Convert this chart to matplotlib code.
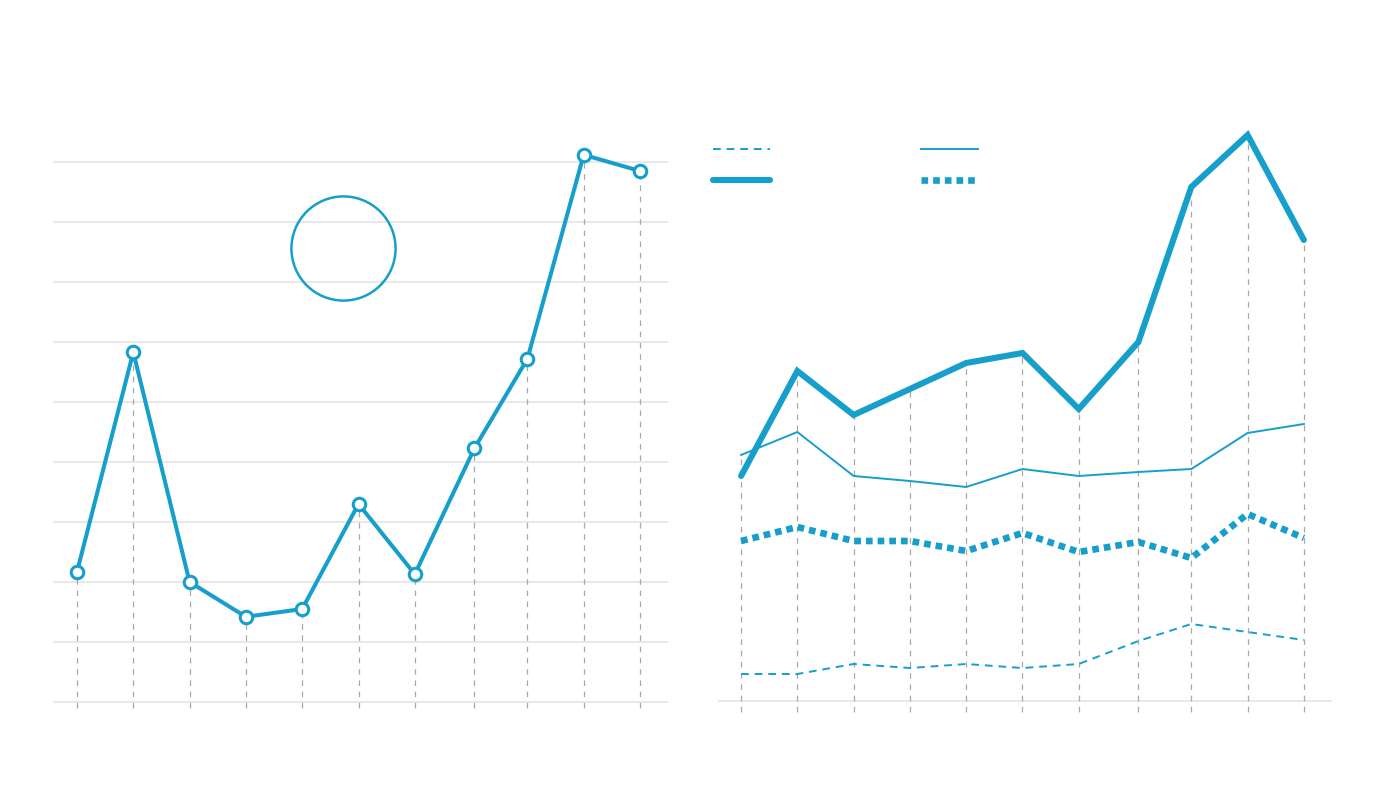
"""
Two small-multiple line charts without labels: a single series with hollow
markers on the left, four styled series sharing a legend on the right.
"""
import matplotlib

matplotlib.use("Agg")
import matplotlib.pyplot as plt
from matplotlib.lines import Line2D

BLUE = "#169fcb"
GRID = "#e4e4e4"
DROP = "#a8a8a8"

# ── data ─────────────────────────────────────────────────────────────
# period 7 sits a little late in both panels
periods = [0, 1, 2, 3, 4, 5, 6, 7.06, 8, 9, 10]

left_values = [2.17, 5.83, 2.0, 1.42, 1.55, 3.3, 2.13, 4.23, 5.72, 9.12, 8.85]
left_gridlines = list(range(10))
highlight_x = [4.72]
highlight_y = [7.57]

thick_solid = [22.5, 33.0, 28.6, 31.2, 33.8, 34.8, 29.2, 35.9, 51.4, 56.6, 46.1]
thin_solid = [24.6, 26.9, 22.5, 22.0, 21.4, 23.2, 22.5, 22.9, 23.2, 26.8, 27.7]
thick_dotted = [16.0, 17.4, 16.0, 16.0, 15.0, 16.8, 14.9, 15.9, 14.3, 18.7, 16.3]
thin_dashed = [2.7, 2.7, 3.7, 3.3, 3.7, 3.3, 3.7, 6.0, 7.7, 6.9, 6.1]

W, H = 1380, 786


def px_axes(fig, left, top, right, bottom):
    """Add an axes given its pixel box (top-left origin)."""
    return fig.add_axes([left / W, 1 - bottom / H, (right - left) / W, (bottom - top) / H])


def strip(ax):
    for s in ax.spines.values():
        s.set_visible(False)
    ax.set_xticks([])
    ax.set_yticks([])


fig = plt.figure(figsize=(W / 100, H / 100), dpi=100)
fig.patch.set_facecolor("white")

# ── left panel ───────────────────────────────────────────────────────
ax1 = px_axes(fig, 53, 120, 668, 720)
ax1.set_xlim(-0.426, 10.497)
ax1.set_ylim(-0.3, 9.7)
strip(ax1)

for g in left_gridlines:
    ax1.axhline(g, color=GRID, lw=1.2, zorder=1)
ax1.vlines(periods, -0.1, left_values, colors=DROP, lw=0.9,
           linestyles=(0, (4.5, 4.5)), zorder=2)
ax1.plot(periods, left_values, color=BLUE, lw=2.9, zorder=3,
         marker="o", ms=9, mfc="white", mec=BLUE, mew=2.2)
ax1.plot(highlight_x, highlight_y, ls="none", marker="o", ms=75,
         mfc="none", mec=BLUE, mew=1.8, zorder=3)

# ── right panel ──────────────────────────────────────────────────────
ax2 = px_axes(fig, 718, 110, 1332, 720)
ax2.set_xlim(-0.41, 10.5)
ax2.set_ylim(-1.9, 59.1)
strip(ax2)

ax2.axhline(0, color=GRID, lw=1.2, zorder=1)
tops = [max(vals) for vals in zip(thick_solid, thin_solid, thick_dotted, thin_dashed)]
ax2.vlines(periods, -1.1, tops, colors=DROP, lw=0.9,
           linestyles=(0, (4.5, 4.5)), zorder=2)

ax2.plot(periods, thin_dashed, color=BLUE, lw=1.4, ls=(0, (4, 3)), zorder=3)
ax2.plot(periods, thin_solid, color=BLUE, lw=1.4, zorder=3)
ax2.plot(periods, thick_dotted, color=BLUE, lw=4.8, ls=(0, (1, 0.75)), zorder=3)
ax2.plot(periods, thick_solid, color=BLUE, lw=4.4, zorder=4,
         solid_capstyle="round", solid_joinstyle="miter")

handles = [
    Line2D([], [], color=BLUE, lw=1.4, ls=(0, (4, 3))),
    Line2D([], [], color=BLUE, lw=4.4, solid_capstyle="round"),
    Line2D([], [], color=BLUE, lw=1.4),
    Line2D([], [], color=BLUE, lw=4.8, ls=(0, (1, 0.75))),
]
ax2.legend(handles, ["", "", "", ""], ncol=2, frameon=False,
           handlelength=4.1, handletextpad=0, columnspacing=10.9,
           labelspacing=1.25, borderaxespad=0, borderpad=0,
           loc="upper left", bbox_to_anchor=(713 / W, 1 - 143 / H),
           bbox_transform=fig.transFigure)

fig.savefig("out.png", dpi=100, facecolor="white")
